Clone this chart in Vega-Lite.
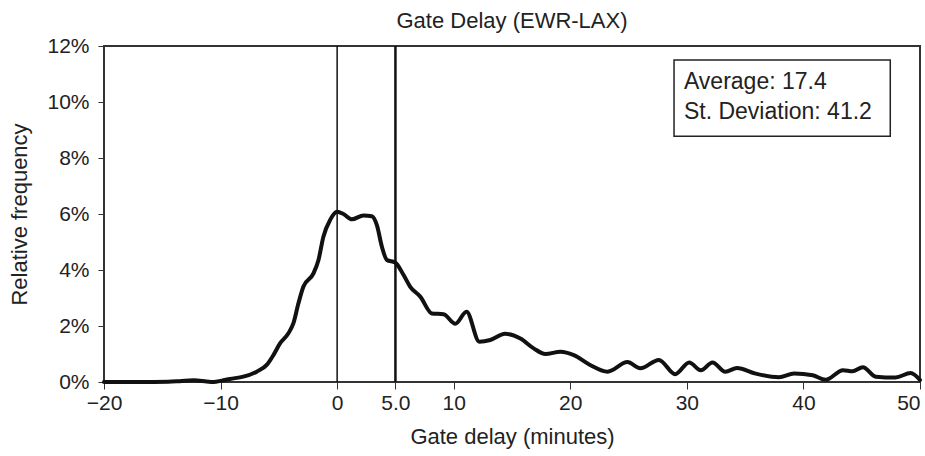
{
  "$schema": "https://vega.github.io/schema/vega-lite/v6.json",
  "width": 816,
  "height": 336,
  "autosize": {"type": "none"},
  "padding": {"left": 104, "top": 46, "right": 5, "bottom": 74},
  "background": "white",
  "config": {
    "font": "Liberation Sans",
    "view": {"stroke": "#333", "strokeWidth": 2},
    "axis": {"grid": false, "domain": false, "labelFont": "Liberation Sans", "titleFont": "Liberation Sans", "labelColor": "#222", "titleColor": "#222", "tickColor": "#333", "titleFontWeight": "normal"}
  },
  "title": {"text": "Gate Delay (EWR-LAX)", "fontSize": 22, "fontWeight": "normal", "color": "#222", "font": "Liberation Sans", "anchor": "middle", "offset": 2},
  "data": {"values": [
    {"delay": -20, "freq": 0.0},
    {"delay": -17, "freq": 0.0},
    {"delay": -14.5, "freq": 0.0001},
    {"delay": -13.5, "freq": 0.0003},
    {"delay": -12.3, "freq": 0.0006},
    {"delay": -11.2, "freq": 0.0002},
    {"delay": -10.6, "freq": 0.0},
    {"delay": -9.9, "freq": 0.0005},
    {"delay": -9.2, "freq": 0.0011},
    {"delay": -8.05, "freq": 0.0019},
    {"delay": -6.9, "freq": 0.0037},
    {"delay": -6.04, "freq": 0.0061},
    {"delay": -5.47, "freq": 0.0096},
    {"delay": -4.9, "freq": 0.0138},
    {"delay": -4.18, "freq": 0.0174},
    {"delay": -3.75, "freq": 0.021},
    {"delay": -3.32, "freq": 0.0281},
    {"delay": -2.9, "freq": 0.034},
    {"delay": -2.03, "freq": 0.0388},
    {"delay": -1.6, "freq": 0.0436},
    {"delay": -1.18, "freq": 0.0519},
    {"delay": -0.6, "freq": 0.0579},
    {"delay": 0, "freq": 0.0608},
    {"delay": 0.54, "freq": 0.06},
    {"delay": 1.26, "freq": 0.0581},
    {"delay": 2.26, "freq": 0.0595},
    {"delay": 2.98, "freq": 0.0592},
    {"delay": 3.41, "freq": 0.056},
    {"delay": 3.84, "freq": 0.0483},
    {"delay": 4.27, "freq": 0.0436},
    {"delay": 4.98, "freq": 0.0427},
    {"delay": 5.7, "freq": 0.0382},
    {"delay": 6.27, "freq": 0.034},
    {"delay": 7.13, "freq": 0.0305},
    {"delay": 8.13, "freq": 0.0245},
    {"delay": 9.13, "freq": 0.0242},
    {"delay": 10.14, "freq": 0.0208},
    {"delay": 11.1, "freq": 0.0251},
    {"delay": 12.2, "freq": 0.0144},
    {"delay": 13.14, "freq": 0.015},
    {"delay": 14.4, "freq": 0.0172},
    {"delay": 15.72, "freq": 0.0155},
    {"delay": 16.86, "freq": 0.012},
    {"delay": 17.87, "freq": 0.01},
    {"delay": 19.16, "freq": 0.0108},
    {"delay": 20.3, "freq": 0.0096},
    {"delay": 21.7, "freq": 0.0061},
    {"delay": 23.2, "freq": 0.0037},
    {"delay": 24.9, "freq": 0.0071},
    {"delay": 26.0, "freq": 0.0049},
    {"delay": 27.6, "freq": 0.0079},
    {"delay": 29.0, "freq": 0.0028},
    {"delay": 30.2, "freq": 0.007},
    {"delay": 31.2, "freq": 0.0042},
    {"delay": 32.2, "freq": 0.007},
    {"delay": 33.3, "freq": 0.0037},
    {"delay": 34.3, "freq": 0.005},
    {"delay": 35.9, "freq": 0.003},
    {"delay": 37.9, "freq": 0.0017},
    {"delay": 39.2, "freq": 0.003},
    {"delay": 40.8, "freq": 0.0024},
    {"delay": 41.9, "freq": 0.0008},
    {"delay": 43.4, "freq": 0.0042},
    {"delay": 44.2, "freq": 0.0038},
    {"delay": 45.1, "freq": 0.0053},
    {"delay": 46.2, "freq": 0.0019},
    {"delay": 47.9, "freq": 0.0016},
    {"delay": 49.2, "freq": 0.0032},
    {"delay": 50, "freq": 0.0007}
  ]},
  "layer": [
    {
      "mark": {"type": "line", "color": "#111", "strokeWidth": 4, "interpolate": "monotone", "strokeJoin": "round", "strokeCap": "round"},
      "encoding": {
        "x": {"field": "delay", "type": "quantitative", "scale": {"domain": [-20, 50], "nice": false, "zero": false},
          "axis": {"title": "Gate delay (minutes)", "values": [-20, -10, 0, 5, 10, 20, 30, 40, 50], "labelExpr": "datum.value == 5 ? '5.0' : replace(format(datum.value, 'd'), '-', '–')", "labelAlign": {"condition": {"test": "datum.value == 50", "value": "right"}, "value": "center"}, "labelFontSize": 21, "titleFontSize": 22, "tickSize": 7, "labelPadding": 3, "titlePadding": 13, "labelFlush": false}},
        "y": {"field": "freq", "type": "quantitative", "scale": {"domain": [0, 0.12], "nice": false},
          "axis": {"title": "Relative frequency", "values": [0, 0.02, 0.04, 0.06, 0.08, 0.1, 0.12], "format": ".0%", "labelFontSize": 21, "titleFontSize": 22, "tickSize": 6, "labelPadding": 9, "titlePadding": 15}}
      }
    },
    {
      "data": {"values": [{}]},
      "mark": {"type": "rule", "color": "#111", "strokeWidth": 1.5},
      "encoding": {"x": {"datum": 0}}
    },
    {
      "data": {"values": [{}]},
      "mark": {"type": "rule", "color": "#111", "strokeWidth": 2.5},
      "encoding": {"x": {"datum": 5}}
    },
    {
      "data": {"values": [{}]},
      "mark": {"type": "rect", "fill": "white", "stroke": "#222", "strokeWidth": 1.5},
      "encoding": {"x": {"datum": 28.9}, "x2": {"datum": 47.45}, "y": {"datum": 0.115}, "y2": {"datum": 0.0878}}
    },
    {
      "data": {"values": [{}]},
      "mark": {"type": "text", "align": "left", "baseline": "alphabetic", "fontSize": 23, "color": "#222", "font": "Liberation Sans"},
      "encoding": {"x": {"datum": 29.75}, "y": {"datum": 0.1048}, "text": {"value": "Average: 17.4"}}
    },
    {
      "data": {"values": [{}]},
      "mark": {"type": "text", "align": "left", "baseline": "alphabetic", "fontSize": 23, "color": "#222", "font": "Liberation Sans"},
      "encoding": {"x": {"datum": 29.75}, "y": {"datum": 0.0941}, "text": {"value": "St. Deviation: 41.2"}}
    }
  ]
}
